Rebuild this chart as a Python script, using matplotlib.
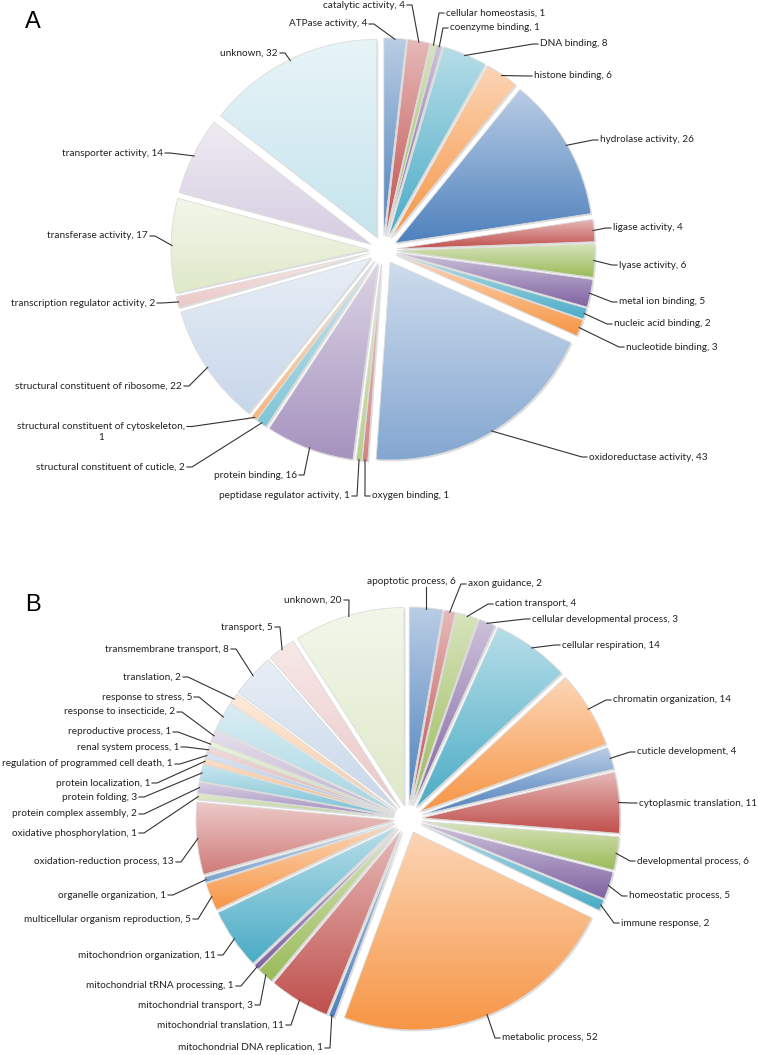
import numpy as np
import matplotlib.pyplot as plt
from matplotlib.colors import to_rgb
from matplotlib.patches import Shadow

W, H = 758, 1055

# ---- panel A: molecular function ----
a_names = ['ATPase activity', 'catalytic activity', 'cellular homeostasis',
           'coenzyme binding', 'DNA binding', 'histone binding',
           'hydrolase activity', 'ligase activity', 'lyase activity',
           'metal ion binding', 'nucleic acid binding', 'nucleotide binding',
           'oxidoreductase activity', 'oxygen binding',
           'peptidase regulator activity', 'protein binding',
           'structural constituent of cuticle',
           'structural constituent of cytoskeleton',
           'structural constituent of ribosome',
           'transcription regulator activity', 'transferase activity',
           'transporter activity', 'unknown']
a_counts = [4, 4, 1, 1, 8, 6, 26, 4, 6, 5, 2, 3, 43, 1, 1, 16, 2, 1, 22, 2, 17, 14, 32]

# label anchors in pixels (x, y from top) and alignment
a_tx = [367, 405, 446, 450, 540, 534, 600, 613, 619, 619, 614, 626, 589, 372,
        350, 297, 185, 185, 182, 155, 148, 163, 278]
a_ty = [24, 5, 13, 28, 44, 76, 140, 228, 265, 302, 324, 347, 457, 496,
        496, 475, 467, 432, 386, 303, 236, 153, 53]
a_ha = ['right', 'right', 'left', 'left', 'left', 'left', 'left', 'left', 'left',
        'left', 'left', 'left', 'left', 'left', 'right', 'right', 'right', 'right',
        'right', 'right', 'right', 'right', 'right']

# ---- panel B: biological process ----
b_names = ['apoptotic process', 'axon guidance', 'cation transport',
           'cellular developmental process', 'cellular respiration',
           'chromatin organization', 'cuticle development',
           'cytoplasmic translation', 'developmental process',
           'homeostatic process', 'immune response', 'metabolic process',
           'mitochondrial DNA replication', 'mitochondrial translation',
           'mitochondrial transport', 'mitochondrial tRNA processing',
           'mitochondrion organization', 'multicellular organism reproduction',
           'organelle organization', 'oxidation-reduction process',
           'oxidative phosphorylation', 'protein complex assembly',
           'protein folding', 'protein localization',
           'regulation of programmed cell death', 'renal system process',
           'reproductive process', 'response to insecticide',
           'response to stress', 'translation', 'transmembrane transport',
           'transport', 'unknown']
b_counts = [6, 2, 4, 3, 14, 14, 4, 11, 6, 5, 2, 52, 1, 11, 3, 1, 11, 5, 1, 13,
            1, 2, 3, 1, 1, 1, 1, 2, 5, 2, 8, 5, 20]

b_tx = [411, 468, 495, 532, 562, 613, 637, 639, 637, 629, 621, 502, 323, 284,
        253, 234, 216, 191, 166, 174, 137, 137, 137, 150, 173, 179, 171, 175,
        192, 181, 229, 273, 342]
b_ty = [581, 584, 604, 619, 645, 700, 752, 803, 861, 896, 923, 1038, 1048,
        1025, 1005, 986, 955, 919, 895, 862, 833, 814, 797, 783, 764, 747, 732,
        712, 697, 677, 649, 627, 600]
b_ha = ['center'] + ['left'] * 11 + ['right'] * 21

BASE = ['#4F81BD', '#C0504D', '#9BBB59', '#8064A2', '#4BACC6', '#F79646']


def tint(c, amt):
    c = np.array(to_rgb(c))
    return c + (1 - c) * amt


def draw_pie(ax, counts, names, tx, ty, ha, center, cycle_light):
    n = len(counts)
    cols = [BASE[i % 6] for i in range(n)]
    # explode is in data units here (pixels), radius too
    wedges, _ = ax.pie(counts, colors=cols, startangle=90, counterclock=False,
                       explode=[14] * n, radius=198, center=center,
                       wedgeprops=dict(edgecolor='#dcdcdc', linewidth=0.6, zorder=3))
    for i, w in enumerate(wedges):
        light = cycle_light[i // 6]
        bottom = tint(BASE[i % 6], light)
        top = tint(BASE[i % 6], light + (1 - light) * 0.6)
        t = np.linspace(0, 1, 64)[:, None, None]
        img = top * (1 - t) + bottom * t
        bb = w.get_path().get_extents()
        im = ax.imshow(img, extent=(bb.x0, bb.x1, bb.y0, bb.y1), origin='upper',
                       interpolation='bilinear', aspect='auto', zorder=2)
        im.set_clip_path(w)
        w.set_facecolor('none')
        ax.add_patch(Shadow(w, 1.0, -1.0, facecolor='#c8c8c8', edgecolor='none',
                            alpha=0.6, zorder=1))

    for w, name, c, x, y, h in zip(wedges, names, counts, tx, ty, ha):
        mid = np.deg2rad((w.theta1 + w.theta2) / 2)
        px = w.center[0] + (w.r - 1) * np.cos(mid)
        py = w.center[1] + (w.r - 1) * np.sin(mid)
        Y = H - y
        if name == 'structural constituent of cytoskeleton':
            txt = name + ',\n' + str(c)
        else:
            txt = f'{name}, {c}'
        ax.text(x, Y, txt, ha=h, va='center', fontsize=7.2, color='#222222',
                family='Lato', multialignment='center', zorder=5)
        hy = Y + 5.5 if '\n' in txt else Y
        if h == 'left':
            xs, ys = [x - 2, x - 7, px], [hy, hy, py]
        elif h == 'right':
            xs, ys = [x + 2, x + 7, px], [hy, hy, py]
        else:
            xs, ys = [px, px], [Y - 6, py]
        ax.plot(xs, ys, color='#333333', lw=0.8, zorder=4)


fig = plt.figure(figsize=(W / 100, H / 100), dpi=100)
ax = fig.add_axes([0, 0, 1, 1])

draw_pie(ax, a_counts, a_names, a_tx, a_ty, a_ha, (383, H - 250),
         [0, 0, 0.3, 0.68])
draw_pie(ax, b_counts, b_names, b_tx, b_ty, b_ha, (408, H - 819),
         [0, 0, 0, 0.25, 0.5, 0.68])

ax.text(25, H - 22, 'A', fontsize=17, family='Liberation Sans', va='center', ha='left')
ax.text(25, H - 605, 'B', fontsize=17, family='Liberation Sans', va='center', ha='left')

ax.set_xlim(0, W)
ax.set_ylim(0, H)
ax.set_aspect('auto')
ax.axis('off')

fig.savefig('out.png', dpi=100, facecolor='white')
